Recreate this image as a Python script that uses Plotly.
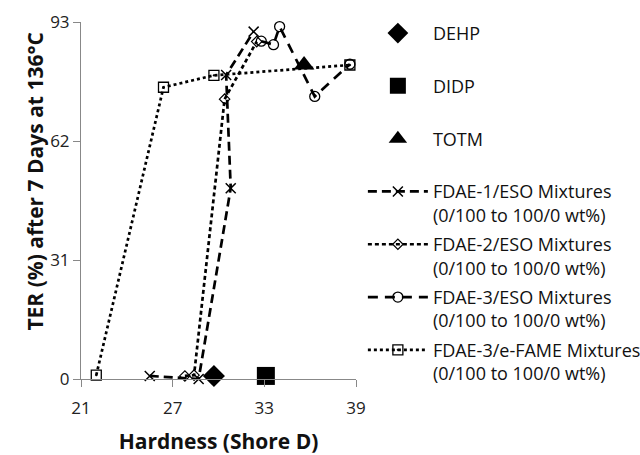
import plotly.graph_objects as go

# Reference plasticizers
dehp_x = [29.7]; dehp_y = [0.8]
didp_x = [33.1]; didp_y = [0.8]
totm_x = [35.6]; totm_y = [81.8]

# Mixture series
fdae1_x = [25.5, 28.7, 30.8, 30.5, 32.3]
fdae1_y = [0.8, 0.0, 49.7, 79.2, 90.5]
fdae2_x = [27.8, 28.4, 30.4, 32.5]
fdae2_y = [0.8, 1.0, 72.9, 87.9]
fdae3_x = [32.8, 33.6, 34.0, 36.3, 38.6]
fdae3_y = [88.0, 87.1, 91.8, 73.6, 82.0]
efame_x = [22.0, 26.4, 29.7, 38.6]
efame_y = [1.0, 76.0, 79.1, 81.8]

x_ticks = [21, 27, 33, 39]
y_ticks = [0, 31, 62, 93]

sub = "<br>(0/100 to 100/0 wt%)"
FONT = "Open Sans"

fig = go.Figure()
fig.add_trace(go.Scatter(x=dehp_x, y=dehp_y, mode="markers", name="DEHP<br> ",
                         legendgroup="a",
                         marker=dict(symbol="diamond", size=17, color="black"), cliponaxis=False))
fig.add_trace(go.Scatter(x=didp_x, y=didp_y, mode="markers", name="DIDP<br> ",
                         legendgroup="b",
                         marker=dict(symbol="square", size=18, color="black"), cliponaxis=False))
fig.add_trace(go.Scatter(x=totm_x, y=totm_y, mode="markers", name="TOTM<br> ",
                         legendgroup="c",
                         marker=dict(symbol="triangle-up", size=18, color="black"), cliponaxis=False))
fig.add_trace(go.Scatter(x=fdae1_x, y=fdae1_y, mode="lines+markers",
                         name="FDAE-1/ESO Mixtures" + sub, legendgroup="d",
                         line=dict(color="black", width=2.7, dash="9px,5px"),
                         marker=dict(symbol="x-thin-open", size=10, color="black",
                                     line=dict(width=1.5, color="black")), cliponaxis=False))
fig.add_trace(go.Scatter(x=fdae2_x, y=fdae2_y, mode="lines+markers",
                         name="FDAE-2/ESO Mixtures" + sub, legendgroup="e",
                         line=dict(color="black", width=2.7, dash="4px,3px"),
                         marker=dict(symbol="diamond-open", size=8, color="black",
                                     line=dict(width=1.2, color="black")), cliponaxis=False))
fig.add_trace(go.Scatter(x=fdae3_x, y=fdae3_y, mode="lines+markers",
                         name="FDAE-3/ESO Mixtures" + sub, legendgroup="f",
                         line=dict(color="black", width=2.7, dash="10px,7px"),
                         marker=dict(symbol="circle-open", size=10, color="black",
                                     line=dict(width=1.3, color="black")), cliponaxis=False))
fig.add_trace(go.Scatter(x=efame_x, y=efame_y, mode="lines+markers",
                         name="FDAE-3/e-FAME Mixtures" + sub, legendgroup="g",
                         line=dict(color="black", width=2.7, dash="dot"),
                         marker=dict(symbol="square-open-dot", size=10, color="black",
                                     line=dict(width=1.3, color="black")), cliponaxis=False))

fig.update_layout(
    width=640, height=455,
    margin=dict(l=81, r=284, t=22, b=76, autoexpand=False),
    paper_bgcolor="white", plot_bgcolor="white",
    font=dict(family=FONT, size=17, color="#222"),
    showlegend=True,
    legend=dict(x=1.025, y=1.02, xanchor="left", yanchor="top",
                valign="top", tracegroupgap=3, itemwidth=60, maxheight=450,
                font=dict(family=FONT, size=18, color="#111"),
                bgcolor="rgba(0,0,0,0)"),
)
fig.update_xaxes(range=[21, 39], tickvals=x_ticks, ticktext=[str(v) for v in x_ticks],
                 showgrid=False, zeroline=False, showline=True, linecolor="#888", linewidth=1,
                 ticks="outside", ticklen=7, tickcolor="#888", ticklabelstandoff=7,
                 title=dict(text="<b>Hardness (Shore D)</b>", font=dict(size=21, color="#111"), standoff=18))
fig.update_yaxes(range=[0, 93], tickvals=y_ticks, ticktext=[str(v) for v in y_ticks],
                 showgrid=False, zeroline=False, showline=True, linecolor="#888", linewidth=1,
                 ticks="outside", ticklen=7, tickcolor="#888",
                 title=dict(text="<b>" + "&nbsp;" * 7 + "TER (%) after 7 Days at 136°C</b>",
                            font=dict(size=21, color="#111"), standoff=0))

fig.write_html("out.html")
